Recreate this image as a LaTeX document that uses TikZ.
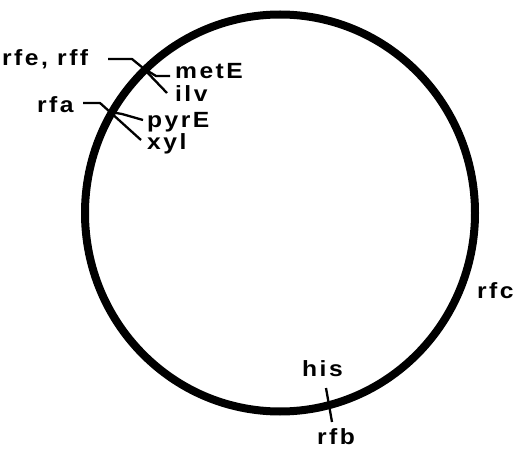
\documentclass[tikz,border=0pt]{standalone}
\usepackage{fontspec}
\usepackage{graphicx}
\setmainfont{Liberation Sans}[LetterSpace=10]
\newcommand{\wide}[1]{\scalebox{1.12}[1]{#1}}
\begin{document}
\begin{tikzpicture}[x=1pt,y=-1pt,
  lbl/.style={font=\fontsize{22}{24}\selectfont\bfseries, inner sep=0pt, anchor=base west},
  tick/.style={line width=2.3pt, line join=round}]
\useasboundingbox (0,0) rectangle (514,449);
\draw[line width=8pt] (280,213) ellipse [x radius=195, y radius=198.5];
% junctions
\coordinate (j1) at (143,68);
\coordinate (j2) at (110,112);
\coordinate (j3) at (329,402);
% labels
\node[lbl] (rfe) at (2,66) {\wide{rfe, rff}};
\node[lbl] (metE) at (175,79) {\wide{metE}};
\node[lbl] (ilv) at (175,102) {\wide{ilv}};
\node[lbl] (rfa) at (37,113) {\wide{rfa}};
\node[lbl] (pyrE) at (147,128) {\wide{pyrE}};
\node[lbl] (xyl) at (147,150) {\wide{xyl}};
\node[lbl] (his) at (302,376) {\wide{his}};
\node[lbl] (rfb) at (317,444) {\wide{rfb}};
\node[lbl] (rfc) at (477,298) {\wide{rfc}};
% connectors
\coordinate (a1) at (108,59);
\coordinate (a3) at (83,103);
\draw[tick] (a1) -- (132,59) -- (j1);
\draw[tick] (j1) -- (156,76) -- (170,76);
\draw[tick] (j1) -- (167,93) coordinate (a2);
\draw[tick] (a3) -- (100,103) -- (j2);
\draw[tick] (j2) -- (122,114) -- (143,120);
\draw[tick] (j2) -- (141,140) coordinate (a4);
\draw[tick] (j3) ++(-3,-14) -- ++(6,34);
\end{tikzpicture}
\end{document}
